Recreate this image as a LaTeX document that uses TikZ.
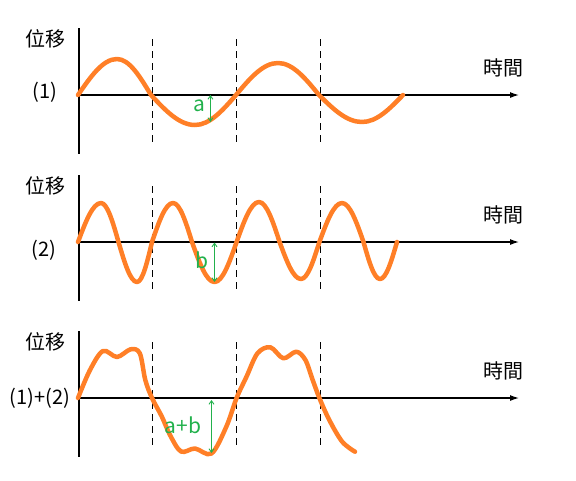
\documentclass[tikz,border=0pt]{standalone}
\usepackage{fontspec}
\setmainfont{Noto Sans CJK TC}
\usetikzlibrary{arrows.meta}
\definecolor{waveorange}{RGB}{255,127,39}
\definecolor{ampgreen}{RGB}{34,177,76}

\begin{document}
\begin{tikzpicture}[x=1pt,y=-1pt,
axisline/.style={line width=1.2pt},
guide/.style={line width=1pt,dash pattern=on 7pt off 5pt},
wave/.style={waveorange,line width=4.5pt,line cap=round,line join=round},
amp/.style={ampgreen,line width=0.9pt,{Straight Barb[length=3.5pt,width=5pt]}-{Straight Barb[length=3.5pt,width=5pt]}},
lab/.style={font=\fontsize{20}{24}\selectfont,inner sep=0pt},
amplab/.style={font=\fontsize{21}{24}\selectfont,inner sep=0pt,text=ampgreen}]
\useasboundingbox (0,0) rectangle (576,480);
% axes, dashed guides and labels of the three panels
\foreach \n/\y/\name/\lx/\dy in {1/95/{(1)}/45/-3,2/242/{(2)}/44/8,3/398/{(1)+(2)}/40/0}{
  \coordinate (o\n) at (79,\y);
  \coordinate (end\n) at (519,\y);
  \draw[axisline] (79,\y-67) -- (79,\y+59);
  \draw[axisline,-{Latex[length=9pt,width=6pt]}] (o\n) -- (end\n);
  \foreach \gx in {152,236,320}
    \draw[guide] (\gx,\y-56) -- (\gx,\y+51);
  \node[lab] (disp\n) at (45,\y-56) {位移};
  \node[lab] (time\n) at (503,\y-27) {時間};
  \node[lab] (name\n) at (\lx,\y+\dy) {\name};
}
% wave (1)
\draw[wave] (78,95) sin (117,59) cos (151,95) sin (195,125) cos (236,95)
  sin (278,63) cos (319,95) sin (362,122) cos (403,95);
% wave (2)
\draw[wave] (78,242) sin (101,203) cos (118.5,242) sin (137,282) cos (152,242)
  sin (173,203) cos (192,242) sin (214.5,282) cos (236.6,242)
  sin (259,202) cos (279.6,242) sin (301,279) cos (319.4,242)
  sin (342,203) cos (363.5,242) sin (380,279) cos (397,242);
% wave (1)+(2)
\draw[wave] plot[smooth,tension=0.55] coordinates {(78,398) (90,370) (103,351)
  (117,357) (130.6,349.3) (139.8,353.3) (145.3,380) (152,398) (161.9,416.7)
  (170,435) (181,451.5) (195,448.5) (211.5,453.5) (226.3,426.7) (236.6,398)
  (246.5,376.7) (257.5,353.3) (270.4,347.3) (283.3,358.3) (296.2,351.7)
  (305.4,360) (312.7,380) (319.4,398) (329.3,420) (342.2,441.7) (355,451.7)};
% amplitudes
\draw[amp] (210.4,95) -- (210.4,122);
\node[amplab] (alab) at (199,106) {a};
\draw[amp] (214.5,242.5) -- (214.5,282);
\node[amplab] (blab) at (202,260) {b};
\draw[amp] (211.5,400) -- (211.5,453);
\node[amplab] (ablab) at (183,425) {a+b};
\end{tikzpicture}
\end{document}
